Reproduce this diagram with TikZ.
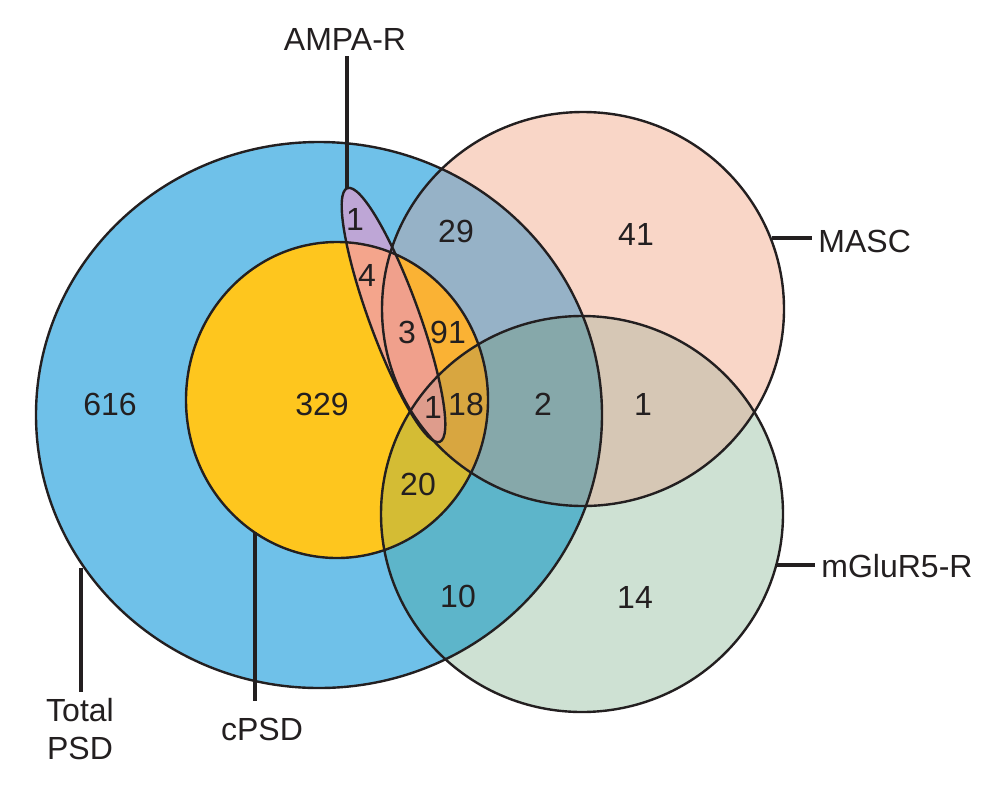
\documentclass[tikz,border=0pt]{standalone}
\usepackage{fontspec}
\setmainfont{Liberation Sans}
\usepackage{tikz}
\usetikzlibrary{calc}

\definecolor{ink}{RGB}{35,31,32}
\definecolor{cB}{RGB}{111,193,233}
\definecolor{cY}{RGB}{254,198,30}
\definecolor{cM}{RGB}{249,214,199}
\definecolor{cG}{RGB}{206,225,211}
\definecolor{cMG}{RGB}{214,199,181}
\definecolor{cBM}{RGB}{150,178,199}
\definecolor{cBG}{RGB}{93,181,202}
\definecolor{cBMG}{RGB}{134,168,170}
\definecolor{cYG}{RGB}{212,188,52}
\definecolor{cYM}{RGB}{250,178,52}
\definecolor{cYMG}{RGB}{216,166,64}
\definecolor{cE}{RGB}{190,166,214}
\definecolor{cYE}{RGB}{244,165,140}
\definecolor{cYME}{RGB}{240,160,140}
\definecolor{cAll}{RGB}{222,156,140}

\def\pathB{(319,415) ellipse [x radius=283, y radius=273]}
\def\pathY{(337,400) ellipse [x radius=151, y radius=158]}
\def\pathM{(583,309) ellipse [x radius=201, y radius=197]}
\def\pathG{(582,514) ellipse [x radius=201, y radius=198]}
\def\pathE{[rotate around={-70:(393.5,315)}] (393.5,315) ellipse [x radius=135, y radius=25]}

\begin{document}
\begin{tikzpicture}[x=0.5pt, y=-0.5pt, font=\fontsize{16}{19}\selectfont,
	outline/.style={draw=ink, line width=1.2pt},
	leader/.style={draw=ink, line width=2.3pt},
	num/.style={anchor=base, text=ink, inner sep=0pt},
	lbl/.style={text=ink, inner sep=3pt}]
			%%%%% START %%%%%
			\useasboundingbox (0,0) rectangle (1006,788);
			
			\fill[cM] \pathM;
			\fill[cG] \pathG;
			\begin{scope}
				\clip \pathM;
				\fill[cMG] \pathG;
			\end{scope}
			
			\fill[cB] \pathB;
			\begin{scope}
				\clip \pathB;
				\fill[cBG] \pathG;
				\fill[cBM] \pathM;
				\clip \pathM;
				\fill[cBMG] \pathG;
			\end{scope}
			
			\fill[cY] \pathY;
			\begin{scope}
				\clip \pathY;
				\fill[cYG] \pathG;
				\fill[cYM] \pathM;
				\clip \pathM;
				\fill[cYMG] \pathG;
			\end{scope}
			
			\begin{scope}
				\clip \pathB;
				\fill[cE] \pathE;
			\end{scope}
			\begin{scope}
				\clip \pathY;
				\fill[cYE] \pathE;
				\clip \pathM;
				\fill[cYME] \pathE;
				\clip \pathG;
				\fill[cAll] \pathE;
			\end{scope}
			
			\draw[outline] \pathB;
			\draw[outline] \pathY;
			\draw[outline] \pathM;
			\draw[outline] \pathG;
			\draw[outline] \pathE;
			
			\node[num] (n616) at (110,415) {616};
			\node[num] (n329) at (322,415) {329};
			\node[num] (nE) at (355,230) {1};
			\node[num] (nYE) at (367,286) {4};
			\node[num] (nBM) at (456,242) {29};
			\node[num] (nM) at (636,245) {41};
			\node[num] (nYME) at (407,343) {3};
			\node[num] (nYM) at (448,343) {91};
			\node[num] (nAll) at (433,418) {1};
			\node[num] (nYMG) at (466,415) {18};
			\node[num] (nBMG) at (543,415) {2};
			\node[num] (nMG) at (643,415) {1};
			\node[num] (nYG) at (418,495) {20};
			\node[num] (nBG) at (458,607) {10};
			\node[num] (nG) at (635,608) {14};
			
			\node[lbl, anchor=base] (ampaLbl) at (345,50) {AMPA-R};
			\node[lbl, anchor=base west] (mascLbl) at (812,252) {MASC};
			\node[lbl, anchor=base west] (mgluLbl) at (815,577) {mGluR5-R};
			\node[lbl, anchor=north, align=center] (totalLbl) at (80,692) {Total\\PSD};
			\node[lbl, anchor=base] (cpsdLbl) at (262,740) {cPSD};
			
			\coordinate (ampaTip) at (347,188);
			\coordinate (mascTip) at (772,238);
			\coordinate (mgluTip) at (776,565);
			\coordinate (totalTip) at (81,568);
			\coordinate (cpsdTip) at (255,532);
			
			\draw[leader] (ampaLbl.south -| ampaTip) -- (ampaTip);
			\draw[leader] (mascTip) -- (mascTip -| mascLbl.west);
			\draw[leader] (mgluTip) -- (mgluTip -| mgluLbl.west);
			\draw[leader] (totalTip) -- (totalLbl.north -| totalTip);
			\draw[leader] (cpsdTip) -- ([yshift=5pt]cpsdLbl.north -| cpsdTip);
			%%%%% END %%%%%
\end{tikzpicture}
\end{document}
